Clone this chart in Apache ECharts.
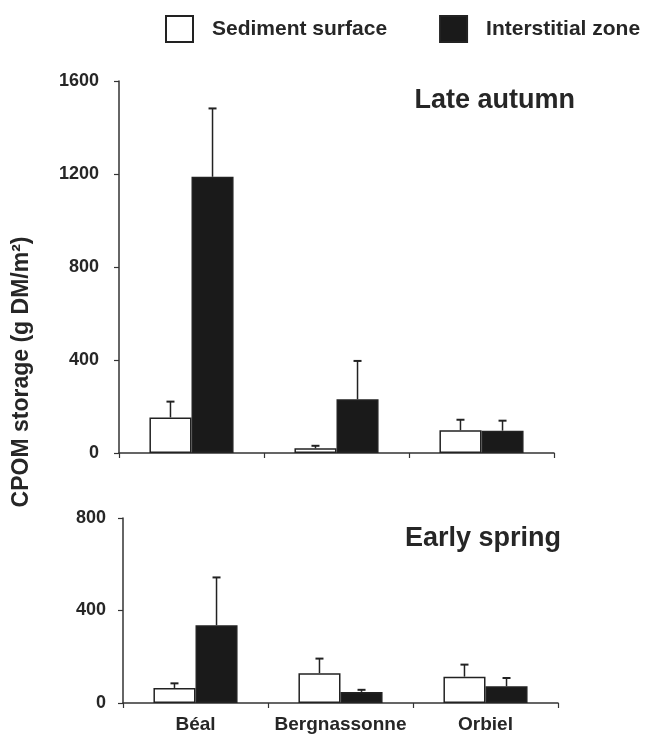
<!DOCTYPE html>
<html>
<head>
<meta charset="utf-8">
<script src="https://cdn.jsdelivr.net/npm/echarts@6/dist/echarts.min.js"></script>
<style>
html,body{margin:0;padding:0;background:#fff;}
#chart{width:645px;height:735px;}
</style>
</head>
<body>
<div id="chart"></div>
<script>
var categories = ['Béal', 'Bergnassonne', 'Orbiel'];
var seriesNames = ['Sediment surface', 'Interstitial zone'];
var autumnSurface = [153, 20, 98];
var autumnSurfaceErr = [68, 11, 45];
var autumnInterstitial = [1188, 231, 96];
var autumnInterstitialErr = [294, 165, 43];
var springSurface = [65, 129, 114];
var springSurfaceErr = [20, 63, 52];
var springInterstitial = [336, 48, 72];
var springInterstitialErr = [207, 9, 36];
var autumnTicks = [0, 400, 800, 1200, 1600];
var springTicks = [0, 400, 800];
var panelTitles = ['Late autumn', 'Early spring'];
var yTitle = 'CPOM storage (g DM/m²)';

var FONT = '"Liberation Sans", Arial, sans-serif';
var TXT = '#262626';
var GAP = 0.42;

function errData(vals, errs) {
  return vals.map(function (v, i) { return [i, v, errs[i]]; });
}
function errSeries(name, axisIdx, vals, errs, side) {
  return {
    type: 'custom', name: name + ' err', xAxisIndex: axisIdx, yAxisIndex: axisIdx,
    data: errData(vals, errs), encode: { x: 0, y: 1 }, z: 1, silent: true,
    renderItem: function (params, api) {
      var idx = api.value(0), val = api.value(1), err = api.value(2);
      var band = api.size([1, 0])[0];
      var bw = band * (1 - GAP) / 2;
      var p0 = api.coord([idx, val]);
      var p1 = api.coord([idx, val + err]);
      var x = p0[0] + side * bw / 2;
      var st = { stroke: '#222', lineWidth: 1.5 };
      return { type: 'group', children: [
        { type: 'line', shape: { x1: x, y1: p0[1], x2: x, y2: p1[1] }, style: st },
        { type: 'line', shape: { x1: x - 4, y1: p1[1], x2: x + 4, y2: p1[1] }, style: { stroke: '#222', lineWidth: 2 } }
      ]};
    }
  };
}
function barSeries(name, axisIdx, vals, color) {
  return {
    type: 'bar', name: name, xAxisIndex: axisIdx, yAxisIndex: axisIdx, data: vals,
    barGap: '0%', barCategoryGap: (GAP * 100) + '%', z: 2,
    itemStyle: { color: color, borderColor: '#222', borderWidth: 1.5 }
  };
}
function yAx(gi, max, ticks, margin) {
  return {
    type: 'value', gridIndex: gi, min: 0, max: max, interval: 400,
    axisLine: { show: true, lineStyle: { color: '#333', width: 1.5 } },
    axisTick: { show: true, length: 5, lineStyle: { color: '#333', width: 1.2 } },
    splitLine: { show: false },
    axisLabel: { color: TXT, fontFamily: FONT, fontWeight: 'bold', fontSize: 18, margin: margin,
      formatter: function (v) { return ticks.indexOf(v) >= 0 ? String(v) : ''; } }
  };
}
function xAx(gi, showLabels) {
  return {
    type: 'category', gridIndex: gi, data: categories, boundaryGap: true,
    axisLine: { show: true, lineStyle: { color: '#333', width: 1.5 } },
    axisTick: { show: true, length: 5, interval: 0, lineStyle: { color: '#333', width: 1.2 } },
    axisLabel: { show: showLabels, interval: 0, hideOverlap: false, color: TXT, fontFamily: FONT, fontWeight: 'bold', fontSize: 19, margin: 12 }
  };
}

var chart = echarts.init(document.getElementById('chart'));
chart.setOption({
  backgroundColor: '#fff',
  animation: false,
  legend: {
    data: seriesNames, left: 165, top: 15, width: 480, padding: 0, orient: 'horizontal',
    itemWidth: 27, itemHeight: 26, itemGap: 52,
    icon: 'rect',
    textStyle: { color: TXT, fontFamily: FONT, fontWeight: 'bold', fontSize: 21, padding: [0, 0, 0, 14] }
  },
  grid: [
    { left: 119, right: 91, top: 81, height: 372 },
    { left: 123, right: 87, top: 518, height: 185 }
  ],
  title: [
    { text: panelTitles[0], right: 70, top: 87, padding: 0, textStyle: { color: TXT, fontFamily: FONT, fontWeight: 'bold', fontSize: 27 } },
    { text: panelTitles[1], right: 84, top: 525, padding: 0, textStyle: { color: TXT, fontFamily: FONT, fontWeight: 'bold', fontSize: 27 } }
  ],
  graphic: [{
    type: 'text', x: 22, y: 372, rotation: Math.PI / 2,
    style: { text: yTitle, fill: TXT, font: 'bold 23px ' + FONT, align: 'center', verticalAlign: 'middle' }
  }],
  xAxis: [xAx(0, false), xAx(1, true)],
  yAxis: [yAx(0, 1600, autumnTicks, 20), yAx(1, 800, springTicks, 17)],
  series: [
    barSeries(seriesNames[0], 0, autumnSurface, '#ffffff'),
    barSeries(seriesNames[1], 0, autumnInterstitial, '#1a1a1a'),
    errSeries(seriesNames[0], 0, autumnSurface, autumnSurfaceErr, -1),
    errSeries(seriesNames[1], 0, autumnInterstitial, autumnInterstitialErr, 1),
    barSeries(seriesNames[0], 1, springSurface, '#ffffff'),
    barSeries(seriesNames[1], 1, springInterstitial, '#1a1a1a'),
    errSeries(seriesNames[0], 1, springSurface, springSurfaceErr, -1),
    errSeries(seriesNames[1], 1, springInterstitial, springInterstitialErr, 1)
  ]
});
</script>
</body>
</html>
